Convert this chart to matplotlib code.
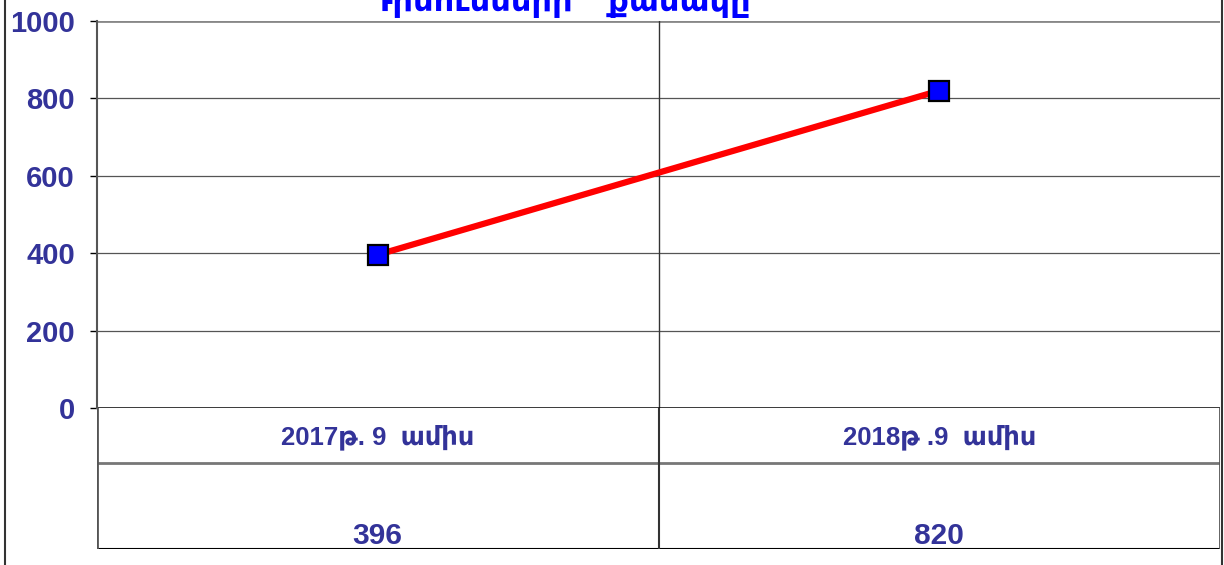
import matplotlib
matplotlib.use("Agg")
import matplotlib.pyplot as plt
from matplotlib.lines import Line2D

# data
categories = ["2017թ. 9  ամիս", "2018թ .9  ամիս"]
values = [396, 820]
y_ticks = [0, 200, 400, 600, 800, 1000]
title = "Դիմումների    քանակը"

FAM = ["Liberation Sans", "DejaVu Sans"]
TXT = "#333399"
W, H = 1224, 565

fig = plt.figure(figsize=(W / 100, H / 100), dpi=100, facecolor="white")


def fx(px):
    return px / W


def fy(py):
    return 1 - py / H


L, R, T, B = 97, 1220, 21, 408   # plot area in pixels
TB = 549                          # bottom of data table
ROW = 463                         # row separator in table

ax = fig.add_axes([fx(L), fy(B), fx(R - L), (B - T) / H])
x = list(range(len(categories)))
ax.plot(x, values, color="red", lw=4.5, zorder=4, solid_capstyle="round",
        marker="s", ms=14, mfc="#0000ff", mec="black", mew=1.6)
ax.set_xlim(-0.5, len(categories) - 0.5)
ax.set_ylim(0, 1000)
ax.set_yticks(y_ticks)
ax.set_yticklabels([str(v) for v in y_ticks], family=FAM, fontsize=21,
                   fontweight="bold", color=TXT)
ax.tick_params(axis="y", length=5, width=1, pad=11, color="black")
ax.set_xticks([])
for v in y_ticks[1:-1]:
    ax.axhline(v, color="#555555", lw=0.9, zorder=1)
ax.axhline(1000, color="#888888", lw=2, zorder=1)
ax.axhline(0, color="black", lw=1.8, zorder=2)
ax.axvline(0.5, color="#333333", lw=1, zorder=1)
for s in ["top", "bottom", "right"]:
    ax.spines[s].set_visible(False)
ax.spines["left"].set_color("#555555")
ax.spines["left"].set_linewidth(1.5)

# data table below the plot
tx = fig.add_axes([fx(L), fy(TB), fx(R - L), (TB - B) / H])
tx.set_xlim(-0.5, len(categories) - 0.5)
tx.set_ylim(TB, B)
tx.axis("off")
tx.axhline(ROW, color="#777777", lw=2)
tx.axhline(TB, color="black", lw=1.5)
tx.axvline(0.5, color="#333333", lw=1.5)
tx.axvline(-0.5, color="#555555", lw=2)
tx.axvline(len(categories) - 0.5, color="#555555", lw=2)
for i, (c, v) in enumerate(zip(categories, values)):
    tx.text(i, 437, c, ha="center", va="center", family=FAM, fontsize=18.5,
            fontweight="bold", color=TXT)
    tx.text(i, 536, str(v), ha="center", va="center", family=FAM,
            fontsize=21.5, fontweight="bold", color=TXT)

# outer frame (left/right edges)
fig.add_artist(Line2D([fx(5), fx(5)], [0, 1], color="#333333", lw=1.5))
fig.add_artist(Line2D([fx(1222), fx(1222)], [0, 1], color="#333333", lw=1.5))

# title, mostly cut off at the top edge as in the source image
fig.text(fx(560), fy(11), title, ha="center", va="baseline", family=FAM,
         fontsize=23, fontweight="bold", color="#0000ff")

fig.savefig("out.png", dpi=100, facecolor="white")
